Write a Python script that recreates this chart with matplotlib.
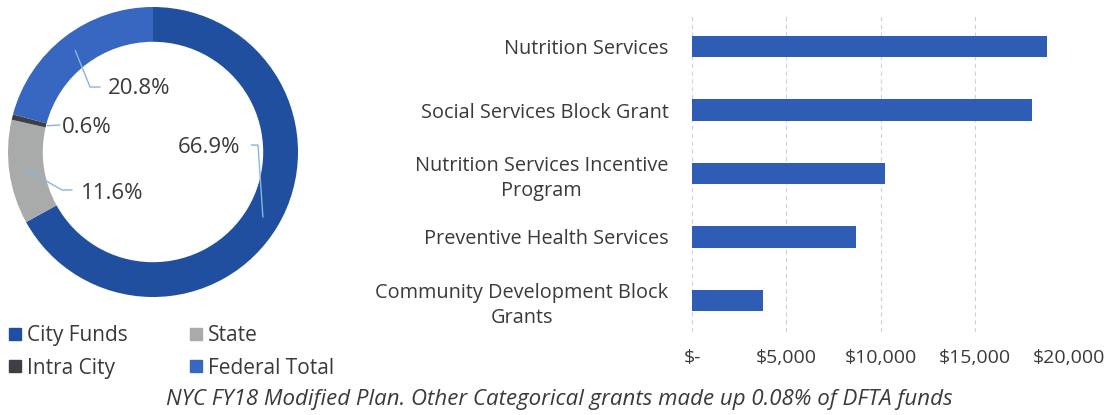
#!/usr/bin/env python3
"""
DFTA funding: donut of funding sources + bar chart of federal grants -> out.png
"""

import numpy as np
import matplotlib
matplotlib.use("Agg")
import matplotlib.pyplot as plt
from matplotlib.lines import Line2D

plt.rcParams["font.family"] = ["Open Sans", "DejaVu Sans"]

# ---------- Data ----------
SOURCES       = ["City Funds", "State", "Intra City", "Federal Total"]
SOURCE_PCT    = [66.9, 11.6, 0.6, 20.8]
SOURCE_COLORS = ["#1f4f9e", "#a9abab", "#3c3f44", "#3767c0"]

GRANTS = ["Nutrition Services",
          "Social Services Block Grant",
          "Nutrition Services Incentive\nProgram",
          "Preventive Health Services",
          "Community Development Block\nGrants"]
GRANT_AMOUNTS = [18820, 18030, 10230, 8700, 3770]
X_TICKS       = [0, 5000, 10000, 15000, 20000]
X_TICK_LABELS = ["$-", "$5,000", "$10,000", "$15,000", "$20,000"]

CAPTION = "NYC FY18 Modified Plan. Other Categorical grants made up 0.08% of DFTA funds"

TEXT = "#3a3a3a"
LEADER = "#8ab4dc"
W, H = 1112, 415

fig = plt.figure(figsize=(W / 100, H / 100), dpi=100)


def px_axes(x0, y0, x1, y1):
    # pixel box (top-left origin) -> figure axes
    return fig.add_axes([x0 / W, 1 - y1 / H, (x1 - x0) / W, (y1 - y0) / H])


# ---------- Donut ----------
R = 145.0
cx, cy = 153, 152
ax1 = px_axes(cx - 150, cy - 150, cx + 150, cy + 150)
wedges, _ = ax1.pie(SOURCE_PCT, colors=SOURCE_COLORS, startangle=90, counterclock=False,
                    radius=1.0, wedgeprops=dict(width=0.24, edgecolor="none"))
lim = 150 / R
ax1.set_xlim(-lim, lim)
ax1.set_ylim(-lim, lim)
ax1.set_aspect("equal")
ax1.axis("off")

# label position, elbow and anchor radius per slice
label_specs = {
    "City Funds":    dict(text=(0.385, 0.03), elbow=[(0.68, 0.048), (0.724, 0.048)], r=0.88),
    "State":         dict(text=(-0.28, -0.283), elbow=[(-0.56, -0.262), (-0.628, -0.262)], r=0.88),
    "Intra City":    dict(text=(-0.455, 0.168), elbow=[(-0.645, 0.186)], r=0.75),
    "Federal Total": dict(text=(-0.095, 0.436), elbow=[(-0.366, 0.448), (-0.434, 0.448)], r=0.88),
}
for w, name, pct in zip(wedges, SOURCES, SOURCE_PCT):
    spec = label_specs[name]
    mid = np.deg2rad((w.theta1 + w.theta2) / 2)
    anchor = (spec["r"] * np.cos(mid), spec["r"] * np.sin(mid))
    pts = spec["elbow"] + [anchor]
    ax1.add_line(Line2D([p[0] for p in pts], [p[1] for p in pts], color=LEADER, lw=1.0))
    ax1.text(*spec["text"], f"{pct}%", ha="center", va="center", fontsize=16, color=TEXT)

order = [0, 2, 1, 3]
handles = [Line2D([], [], marker="s", ls="", ms=8.5, color=SOURCE_COLORS[i]) for i in order]
fig.legend(handles, [SOURCES[i] for i in order], ncol=2, frameon=False,
           loc="upper left", bbox_to_anchor=(0 / W, 1 - 317 / H),
           fontsize=15, labelcolor=TEXT, handlelength=0.6, handletextpad=0.3,
           columnspacing=2.95, labelspacing=0.55, borderaxespad=0)

# ---------- Bars ----------
ax2 = px_axes(692, 15, 1069, 332)
y = np.arange(len(GRANTS))
ax2.barh(y, GRANT_AMOUNTS, height=0.34, color="#2f5cb5", zorder=2)
ax2.set_ylim(len(GRANTS) - 0.5, -0.5)
ax2.set_xlim(0, 20000)
ax2.set_yticks(y)
ax2.set_yticklabels(GRANTS, fontsize=14.3, color=TEXT, multialignment="center",
                    linespacing=1.35)
ax2.set_xticks(X_TICKS)
ax2.set_xticklabels(X_TICK_LABELS, fontsize=14, color=TEXT)
ax2.tick_params(axis="y", length=0, pad=17)
ax2.tick_params(axis="x", length=0, pad=12)
ax2.grid(axis="x", color="#d2d2d2", ls=(0, (4, 3)), lw=0.8, zorder=0)
for s in ax2.spines.values():
    s.set_visible(False)

# ---------- Caption ----------
fig.text(559 / W, 1 - 399 / H, CAPTION, ha="center", va="center",
         fontsize=16, style="italic", color=TEXT)

fig.savefig("out.png", dpi=100)
